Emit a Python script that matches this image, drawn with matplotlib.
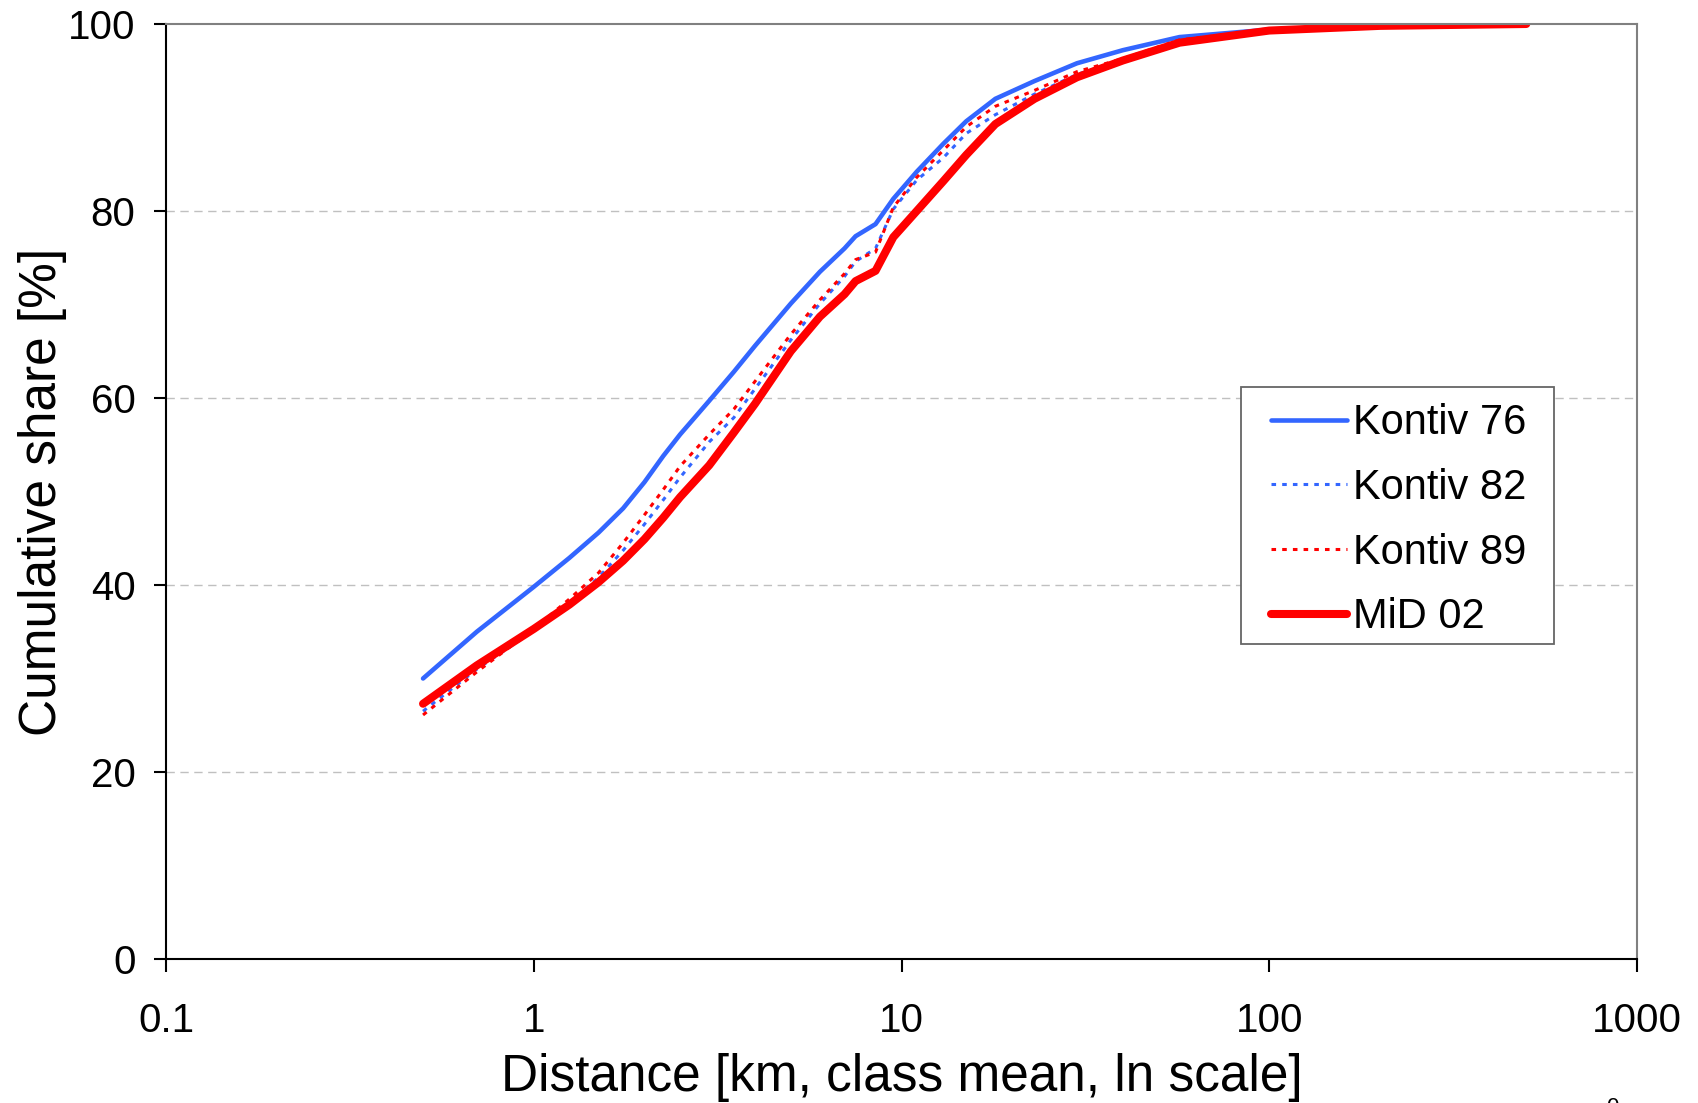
import numpy as np
import matplotlib
matplotlib.use("Agg")
import matplotlib.pyplot as plt
from matplotlib.patches import Rectangle

plt.rcParams['font.family'] = ['Liberation Sans', 'DejaVu Sans']

# class mean distance [km]
dist = [0.5, 0.7, 1, 1.25, 1.5, 1.75, 2, 2.25, 2.5, 3, 3.5, 4, 5, 6, 7, 7.5,
        8.5, 9.5, 11, 13, 15, 18, 23, 30, 40, 57, 100, 200, 500]

# cumulative share [%]
kontiv76 = [30.0, 35.0, 39.8, 42.9, 45.6, 48.2, 51.0, 53.8, 56.1, 59.7, 62.8,
            65.6, 70.1, 73.5, 76.0, 77.3, 78.6, 81.3, 84.2, 87.2, 89.6, 92.0,
            93.9, 95.8, 97.2, 98.6, 99.4, 99.8, 100.0]
kontiv82 = [26.5, 31.0, 35.1, 38.0, 40.8, 43.7, 46.5, 49.1, 51.5, 55.3, 57.9,
            61.0, 66.2, 70.1, 73.0, 74.6, 76.0, 80.2, 83.3, 85.7, 88.3, 90.3,
            92.5, 94.6, 96.2, 98.2, 99.3, 99.8, 100.0]
kontiv89 = [26.1, 30.7, 35.3, 38.5, 41.3, 44.5, 47.5, 50.2, 52.7, 56.1, 58.8,
            61.8, 66.8, 70.5, 73.3, 74.8, 75.6, 80.4, 83.6, 86.5, 89.0, 91.2,
            92.9, 94.9, 96.3, 98.3, 99.4, 99.8, 100.0]
mid02 = [27.3, 31.4, 35.3, 37.9, 40.3, 42.6, 44.9, 47.2, 49.4, 52.8, 56.3,
         59.4, 65.0, 68.7, 71.1, 72.5, 73.6, 77.2, 80.0, 83.2, 86.0, 89.3,
         92.0, 94.3, 96.1, 98.0, 99.3, 99.8, 100.0]

xticks = [0.1, 1, 10, 100, 1000]
xticklabels = ["0.1", "1", "10", "100", "1000"]
yticks = [0, 20, 40, 60, 80, 100]

blue = '#3366FF'
red = '#FF0000'

fig = plt.figure(figsize=(16.99, 11.03), dpi=100)
ax = fig.add_axes([166/1699, 1-959/1103, 1471/1699, 935/1103])

ax.plot(dist, kontiv76, color=blue, lw=3.3, label='Kontiv 76', solid_capstyle='round')
ax.plot(dist, kontiv82, color=blue, lw=2.2, linestyle=(0, (1.5, 2.0)), label='Kontiv 82')
ax.plot(dist, kontiv89, color=red, lw=2.2, linestyle=(0, (1.5, 2.0)), label='Kontiv 89')
ax.plot(dist, mid02, color=red, lw=5.8, label='MiD 02', solid_capstyle='round')

ax.set_xscale('log')
ax.set_xlim(0.1, 1000)
ax.set_ylim(0, 100)
ax.set_xticks(xticks)
ax.set_xticklabels(xticklabels)
ax.xaxis.set_minor_locator(matplotlib.ticker.NullLocator())
ax.set_yticks(yticks)
ax.tick_params(axis='both', direction='out', length=9, width=1.5, labelsize=29)
ax.tick_params(axis='x', pad=22)
ax.tick_params(axis='y', pad=13)

for y in yticks[1:-1]:
    ax.axhline(y, color='#c0c0c0', lw=1.0, linestyle=(0, (6, 4)), zorder=0)

for s in ['left', 'bottom']:
    ax.spines[s].set_color('black')
    ax.spines[s].set_linewidth(1.5)
for s in ['top', 'right']:
    ax.spines[s].set_color('#808080')
    ax.spines[s].set_linewidth(1.5)

ax.set_xlabel('Distance [km, class mean, ln scale]', fontsize=37)
ax.set_ylabel('Cumulative share [%]', fontsize=37)
ax.xaxis.set_label_coords(0.5, -0.100)
ax.yaxis.set_label_coords(-0.067, 0.5)

# legend box drawn separately so the inner padding can differ per side
box = Rectangle((0.7308, 0.3369), 0.2128, 0.2749, transform=ax.transAxes,
                facecolor='white', edgecolor='#666666', lw=1.3, zorder=4.9)
ax.add_patch(box)
leg = ax.legend(loc='upper left', bbox_to_anchor=(0.7512, 0.5942), borderaxespad=0,
                fontsize=30, frameon=False, handlelength=1.82, handletextpad=0.15,
                borderpad=0, labelspacing=0.59)

fig.text(1612/1699, -0.009, '0', fontsize=16, ha='center', va='baseline')

fig.savefig('out.png', dpi=100)
